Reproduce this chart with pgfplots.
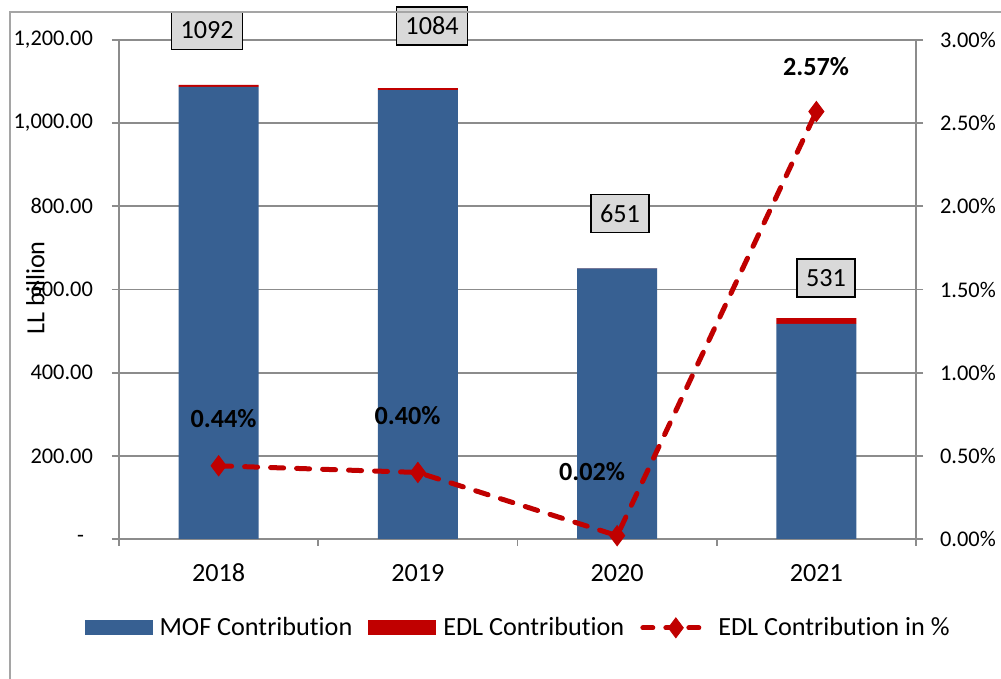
\documentclass[border=0pt]{standalone}
\usepackage{pgfplots}
\pgfplotsset{compat=1.18}
\usepackage{fontspec}
\setmainfont{Carlito}[Ligatures={NoCommon}]
\definecolor{barblue}{RGB}{55,96,146}
\definecolor{edlred}{RGB}{192,0,0}
\definecolor{gridgray}{RGB}{140,140,140}
\definecolor{boxgray}{RGB}{217,217,217}
\definecolor{framegray}{RGB}{165,165,165}
\newcommand{\bigf}{\fontsize{13.1}{15}\selectfont}
\newcommand{\smallf}{\fontsize{11.2}{13}\selectfont}
\begin{document}
\begin{tikzpicture}
\begin{axis}[
  name=ax,
  scale only axis, width=398.5pt, height=249.5pt,
  xmin=-0.5, xmax=3.5, ymin=0, ymax=1200,
  axis x line*=bottom, axis y line*=left,
  axis line style={-, draw=gridgray, line width=0.9pt},
  tick align=outside, major tick length=3.5pt,
  tick style={draw=gridgray, line width=0.9pt},
  ymajorgrids, grid style={draw=gridgray, line width=0.9pt},
  ytick={0,200,...,1200},
  yticklabels={-\hspace*{4.5pt},200.00,400.00,600.00,800.00,{1,000.00},{1,200.00}},
  yticklabel style={font=\smallf, anchor=east, xshift=-6pt},
  xtick={-0.5,0.5,1.5,2.5,3.5}, xticklabels={},
  extra x ticks={0,1,2,3}, extra x tick labels={2018,2019,2020,2021},
  extra x tick style={major tick length=0pt, grid=none, xticklabel style={font=\bigf, yshift=-9pt}},
  ylabel={LL billion},
  ylabel style={font=\bigf, at={(axis description cs:-0.105,0.503)}, anchor=center},
  ybar stacked, bar width=40pt,
  clip=false,
  legend columns=3,
  legend style={at={(0.502,-0.178)}, anchor=center, draw=none, fill=none, font=\bigf,
    /tikz/every even column/.append style={column sep=6pt},
    /tikz/every odd column/.append style={column sep=1.5pt}},
]
\addplot[fill=barblue, draw=none, legend image code/.code={\fill[barblue] (0pt,-3.75pt) rectangle (34pt,3.75pt);}]
  coordinates {(0,1087.2) (1,1079.7) (2,650.9) (3,517.4)};
\addlegendentry{MOF Contribution}
\addplot[fill=edlred, draw=none, legend image code/.code={\fill[edlred] (0pt,-3.75pt) rectangle (34pt,3.75pt);}]
  coordinates {(0,4.8) (1,4.3) (2,0.2) (3,13.6)};
\addlegendentry{EDL Contribution}
\addlegendimage{legend image code/.code={
  \draw[edlred, line width=2.5pt, line cap=round, dash pattern=on 5pt off 6.5pt] (0pt,0pt) -- (33pt,0pt);
  \fill[edlred] (16.5pt,5pt) -- (20.25pt,0pt) -- (16.5pt,-5pt) -- (12.75pt,0pt) -- cycle;}}
\addlegendentry{EDL Contribution in \%}
\end{axis}
\begin{axis}[
  scale only axis, width=398.5pt, height=249.5pt,
  xmin=-0.5, xmax=3.5, ymin=0, ymax=3,
  axis x line=none, axis y line*=right,
  axis line style={-, draw=gridgray, line width=0.9pt},
  tick align=outside, major tick length=3.5pt,
  tick style={draw=gridgray, line width=0.9pt},
  ytick={0,0.5,...,3},
  yticklabels={0.00\%,0.50\%,1.00\%,1.50\%,2.00\%,2.50\%,3.00\%},
  yticklabel style={font=\smallf, anchor=west, xshift=5pt},
  clip=false,
]
\addplot[edlred, line width=2.5pt, line cap=round, dash pattern=on 6.5pt off 6.5pt,
  mark=diamond*, mark size=5pt, mark options={solid, fill=edlred, draw=edlred, line width=0.5pt}]
  coordinates {(0,0.44) (1,0.40) (2,0.02) (3,2.57)};
\tikzset{boxlab/.style={draw=black, line width=0.8pt, fill=boxgray, font=\bigf, inner xsep=4.5pt, inner ysep=0pt, minimum height=19pt, text depth=0pt}}
\node[boxlab] at (axis cs:-0.058,3.0575) {1092};
\node[boxlab] at (axis cs:1.071,3.085) {1084};
\node[boxlab] at (axis cs:2.014,1.9575) {651};
\node[boxlab] at (axis cs:3.048,1.57) {531};
\tikzset{pctlab/.style={font=\bigf\bfseries}}
\node[pctlab] at (axis cs:0.0245,0.725) {0.44\%};
\node[pctlab] at (axis cs:0.948,0.745) {0.40\%};
\node[pctlab] at (axis cs:1.874,0.4025) {0.02\%};
\node[pctlab] at (axis cs:2.998,2.8375) {2.57\%};
\end{axis}
\draw[framegray, line width=1pt] ([xshift=-54.25pt,yshift=-80pt]ax.south west) -- ([xshift=-54.25pt,yshift=263.5pt]ax.south west) -- ([xshift=460pt,yshift=263.5pt]ax.south west);
\pgfresetboundingbox
\path[use as bounding box] ([xshift=-59.5pt,yshift=-70pt]ax.south west) rectangle ([xshift=441pt,yshift=269.5pt]ax.south west);
\end{tikzpicture}
\end{document}
